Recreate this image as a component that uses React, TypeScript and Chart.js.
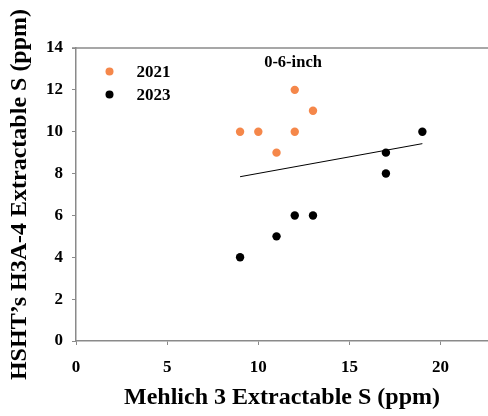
import React, { useEffect, useRef } from "react";
import { Chart, registerables } from "chart.js";

Chart.register(...registerables);

const x2021 = [9, 10, 12, 11, 12, 13];
const y2021 = [10, 10, 10, 9, 12, 11];
const x2023 = [9, 11, 12, 13, 17, 17, 19];
const y2023 = [4, 5, 6, 6, 9, 8, 10];
const trendX = [9, 19];
const trendY = [7.85, 9.43];
const xTicks = [0, 5, 10, 15, 20];
const yTicks = [0, 2, 4, 6, 8, 10, 12, 14];
const seriesNames = ["2021", "2023"];
const panelLabel = "0-6-inch";
const xTitle = "Mehlich 3 Extractable S (ppm)";
const yTitle = "HSHT\u2019s H3A-4 Extractable S (ppm)";

const ORANGE = "#F5874A";
const AXIS = "#8a8a8a";
const FONT = "'Liberation Serif', 'DejaVu Serif', serif";

const overlay = {
  id: "overlay",
  afterDraw(chart: any) {
    const { ctx, chartArea } = chart;
    ctx.save();
    // top frame line
    ctx.strokeStyle = AXIS;
    ctx.lineWidth = 1.5;
    ctx.beginPath();
    ctx.moveTo(chartArea.left - 4, chartArea.top);
    ctx.lineTo(chart.width, chartArea.top);
    ctx.stroke();
    // legend
    const colors = [ORANGE, "#000000"];
    ctx.font = `bold 17px ${FONT}`;
    ctx.textBaseline = "middle";
    ctx.textAlign = "left";
    seriesNames.forEach((n, i) => {
      const cy = chartArea.top + 23.5 + i * 23;
      ctx.fillStyle = colors[i];
      ctx.beginPath();
      ctx.arc(chartArea.left + 33.5, cy, 4, 0, Math.PI * 2);
      ctx.fill();
      ctx.fillStyle = "#000";
      ctx.fillText(n, chartArea.left + 60.5, cy + 1);
    });
    // panel label
    ctx.textAlign = "center";
    ctx.font = `bold 16.5px ${FONT}`;
    ctx.fillText(panelLabel, chartArea.left + 217, chartArea.top + 15);
    ctx.restore();
  },
};

export default function App() {
  const ref = useRef<HTMLCanvasElement>(null);
  useEffect(() => {
    const chart = new Chart(ref.current!, {
      type: "scatter",
      data: {
        datasets: [
          {
            label: seriesNames[0],
            data: x2021.map((x, i) => ({ x, y: y2021[i] })),
            backgroundColor: ORANGE,
            borderColor: ORANGE,
            pointRadius: 4.2,
            pointBorderWidth: 0,
          },
          {
            label: seriesNames[1],
            data: x2023.map((x, i) => ({ x, y: y2023[i] })),
            backgroundColor: "#000",
            borderColor: "#000",
            pointRadius: 4.2,
            pointBorderWidth: 0,
          },
          {
            type: "line",
            label: "trend",
            data: trendX.map((x, i) => ({ x, y: trendY[i] })),
            borderColor: "#000",
            borderWidth: 1,
            pointRadius: 0,
            showLine: true,
            fill: false,
          } as any,
        ],
      },
      options: {
        animation: false,
        responsive: false,
        layout: { autoPadding: false, padding: { top: 48, right: 0, left: 0, bottom: 0 } },
        plugins: {
          legend: { display: false },
          tooltip: { enabled: false },
        },
        scales: {
          x: {
            type: "linear",
            min: 0,
            max: 22.6,
            afterBuildTicks: (s: any) => {
              s.ticks = xTicks.map((v) => ({ value: v }));
            },
            afterFit: (s: any) => {
              s.height = 75;
              s.paddingRight = 0;
              s.paddingLeft = 0;
            },
            border: { color: AXIS, width: 1.5 },
            grid: {
              drawOnChartArea: false,
              drawTicks: true,
              tickLength: 4,
              color: AXIS,
            },
            ticks: {
              color: "#000",
              font: { family: FONT, size: 17, weight: "bold" },
              padding: 12,
              maxRotation: 0,
            },
            title: {
              display: true,
              text: xTitle,
              color: "#000",
              font: { family: FONT, size: 24, weight: "bold" },
              padding: { top: 1 },
            },
          },
          y: {
            type: "linear",
            min: 0,
            max: 14,
            afterBuildTicks: (s: any) => {
              s.ticks = yTicks.map((v) => ({ value: v }));
            },
            afterFit: (s: any) => {
              s.width = 76;
              s.paddingTop = 0;
              s.paddingBottom = 0;
            },
            border: { color: AXIS, width: 1.5 },
            grid: {
              drawOnChartArea: false,
              drawTicks: true,
              tickLength: 4,
              color: AXIS,
            },
            ticks: {
              color: "#000",
              font: { family: FONT, size: 17, weight: "bold" },
              padding: 9,
            },
            title: {
              display: true,
              text: yTitle,
              color: "#000",
              font: { family: FONT, size: 24, weight: "bold" },
              padding: { top: 5, bottom: 0 },
            },
          },
        },
      },
      plugins: [overlay],
    } as any);
    return () => chart.destroy();
  }, []);
  return (
    <div style={{ position: "fixed", left: 0, top: 0, width: 488, height: 416, background: "#fff" }}>
      <canvas ref={ref} width={488} height={416} />
    </div>
  );
}
